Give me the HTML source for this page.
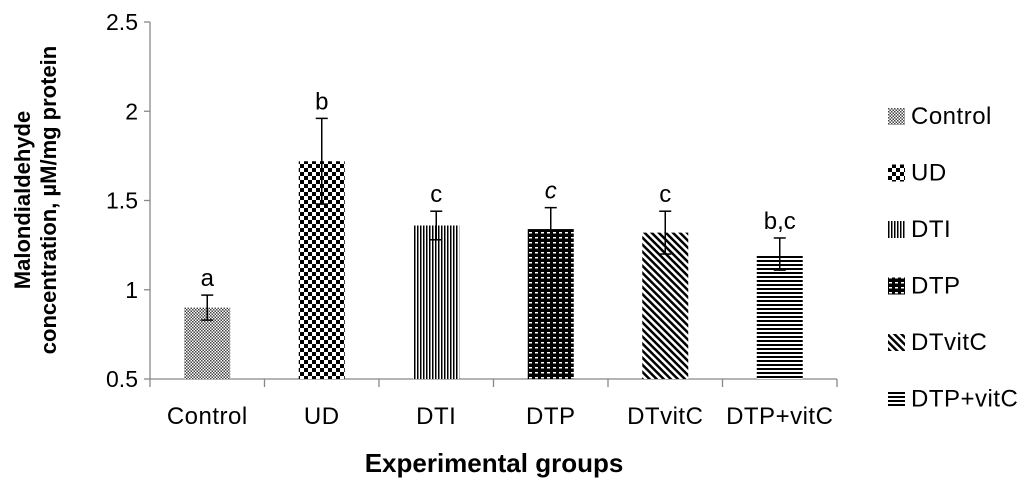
<!DOCTYPE html>
<html><head><meta charset="utf-8"><style>
body{margin:0;background:#fff;}
svg{display:block;font-family:"Liberation Sans",Calibri,sans-serif;}
</style></head><body>
<svg id="chart" width="1024" height="484" viewBox="0 0 1024 484">
<defs>
<pattern id="p0" width="3" height="3" patternUnits="userSpaceOnUse"><rect width="3" height="3" fill="#fff"/><rect width="1.5" height="1.5" fill="#444"/><rect x="1.5" y="1.5" width="1.5" height="1.5" fill="#444"/></pattern>
<pattern id="p1" width="8" height="8" patternUnits="userSpaceOnUse"><rect width="8" height="8" fill="#fff"/><rect width="4" height="4" fill="#000"/><rect x="4" y="4" width="4" height="4" fill="#000"/></pattern>
<pattern id="p2" width="3" height="3" patternUnits="userSpaceOnUse"><rect width="3" height="3" fill="#fff"/><rect width="1.5" height="3" fill="#000"/></pattern>
<pattern id="p3" width="6" height="5" patternUnits="userSpaceOnUse"><rect width="6" height="5" fill="#000"/><rect x="1" y="2" width="3" height="1.5" fill="#fff"/></pattern>
<pattern id="p4" width="5" height="5" patternUnits="userSpaceOnUse" patternTransform="rotate(-45)"><rect width="5" height="5" fill="#fff"/><rect width="2.5" height="5" fill="#000"/></pattern>
<pattern id="p5" width="4" height="4" patternUnits="userSpaceOnUse"><rect width="4" height="4" fill="#fff"/><rect width="4" height="2" fill="#000"/></pattern>
</defs>
<g id="axes"></g><g id="bars"></g><g id="legend"></g>
<text x="494" y="472" text-anchor="middle" font-size="26" font-weight="bold">Experimental groups</text>
<text transform="translate(36,200) rotate(-90)" text-anchor="middle" font-size="22" font-weight="bold"><tspan x="0" y="-6">Malondialdehyde</tspan><tspan x="0" y="20">concentration, µM/mg protein</tspan></text>
</svg>
<script>
const categories=["Control","UD","DTI","DTP","DTvitC","DTP+vitC"];
const values=[0.90,1.72,1.36,1.34,1.32,1.20];
const errors=[0.07,0.24,0.08,0.12,0.12,0.09];
const letters=["a","b","c","c","c","b,c"];
const yTicks=[0.5,1,1.5,2,2.5];
const NS="http://www.w3.org/2000/svg";
const x0=150,band=114.5,bw=46,yBase=379,yTop=22;
function y(v){return yBase-(v-0.5)/2*(yBase-yTop);}
function xc(i){return x0+band*(i+0.5);}
function mk(tag,attrs,parent,txt){const e=document.createElementNS(NS,tag);for(const k in attrs)e.setAttribute(k,attrs[k]);if(txt!==undefined)e.textContent=txt;parent.appendChild(e);return e;}
const axes=document.getElementById('axes'),bars=document.getElementById('bars'),leg=document.getElementById('legend');
let l=mk('line',{x1:x0,y1:yTop,x2:x0,y2:yBase,stroke:'#888','stroke-width':1.3},axes);


l=mk('line',{x1:x0,y1:yBase,x2:x0+band*categories.length,y2:yBase,stroke:'#888','stroke-width':1.3},axes);


yTicks.forEach(t=>{
 mk('line',{x1:x0-6,y1:y(t),x2:x0,y2:y(t),stroke:'#888','stroke-width':1.3},axes);
 const tx=mk('text',{x:x0-12,y:y(t)+8,'text-anchor':'end','font-size':23},axes,String(t));
 
 
});
for(let i=0;i<=categories.length;i++){mk('line',{x1:x0+band*i,y1:yBase,x2:x0+band*i,y2:yBase+8,stroke:'#888','stroke-width':1.3},axes);}
categories.forEach((c,i)=>{
 const cx=xc(i);
 const r=mk('rect',{x:cx-bw/2,y:y(values[i]),width:bw,height:yBase-y(values[i]),fill:'url(#p'+i+')'},bars);
 
 
 const hi=y(values[i]+errors[i]),lo=y(values[i]-errors[i]);
 const g=mk('g',{stroke:'#000','stroke-width':1.5},bars);
 
 
 mk('line',{x1:cx,y1:hi,x2:cx,y2:lo},g);
 mk('line',{x1:cx-6,y1:hi,x2:cx+6,y2:hi},g);
 mk('line',{x1:cx-6,y1:lo,x2:cx+6,y2:lo},g);
 const lt=mk('text',{x:cx,y:hi-9,'text-anchor':'middle','font-size':24,'font-style':i===3?'italic':'normal'},bars,letters[i]);
 
 
 const xl=mk('text',{x:cx,y:424,'text-anchor':'middle','font-size':24,'letter-spacing':0.5},bars,c);
 
 
 const ly=116+i=== -1?0:116+i*56.5;
 const lg=mk('g',{},leg);
 
 
 mk('rect',{x:888,y:ly-8,width:17,height:17,fill:'url(#p'+i+')'},lg);
 mk('text',{x:911,y:ly+8,'font-size':24,'letter-spacing':0.5},lg,c);
});
</script>
</body></html>
